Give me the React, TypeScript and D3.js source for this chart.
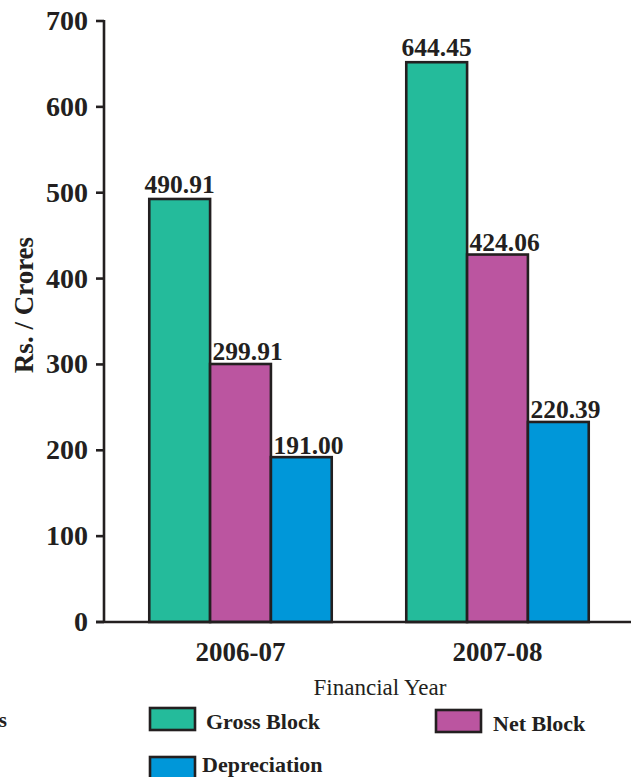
import React from "react";
import * as d3 from "d3";

const categories = ["2006-07", "2007-08"];
const seriesNames = ["Gross Block", "Net Block", "Depreciation"];
// bar heights as drawn in the picture
const grossBlock = [492.7, 652];
const netBlock = [300.5, 428];
const depreciation = [192, 233];
// printed value labels
const grossLabels = ["490.91", "644.45"];
const netLabels = ["299.91", "424.06"];
const depLabels = ["191.00", "220.39"];
const yTicks = [0, 100, 200, 300, 400, 500, 600, 700];

const colors = ["#24BB9B", "#BB55A0", "#0097D9"];
const FONT = "'Liberation Serif', 'Times New Roman', serif";
const INK = "#231f20";

export default function App() {
  const W = 631, H = 777;
  const y = d3.scaleLinear().domain([0, 700]).range([622, 21]);
  const x0 = d3.scaleBand<string>().domain(categories).range([112, 626]).paddingInner(0.29).paddingOuter(0.145);
  const x1 = d3.scaleBand<string>().domain(seriesNames).range([0, x0.bandwidth()]);
  const values = [grossBlock, netBlock, depreciation];
  const labels = [grossLabels, netLabels, depLabels];
  const axisX = 104;

  return (
    <svg width={W} height={H} style={{ position: "absolute", left: 0, top: 0, background: "#fff" }} fontFamily={FONT}>
      {categories.map((c, ci) =>
        seriesNames.map((s, si) => {
          const bx = (x0(c) as number) + (x1(s) as number);
          const top = y(values[si][ci]);
          return (
            <rect key={c + s} x={bx} y={top} width={x1.bandwidth()} height={y(0) - top} fill={colors[si]} stroke={INK} strokeWidth={2.6} />
          );
        })
      )}
      {categories.map((c, ci) =>
        seriesNames.map((s, si) => {
          const bx = (x0(c) as number) + (x1(s) as number);
          const top = y(values[si][ci]);
          const centered = si === 0;
          return (
            <text key={"l" + c + s} x={centered ? bx + x1.bandwidth() / 2 : bx + 2.5} y={top - (centered ? 6 : 3.5)}
              textAnchor={centered ? "middle" : "start"} fontSize={25.5} fontWeight="bold" fill={INK}>
              {labels[si][ci]}
            </text>
          );
        })
      )}
      <line x1={axisX} x2={axisX} y1={y(700) - 1} y2={y(0)} stroke={INK} strokeWidth={2.6} />
      {yTicks.map((t) => (
        <g key={t}>
          <line x1={axisX - 8} x2={axisX} y1={y(t)} y2={y(t)} stroke={INK} strokeWidth={2.6} />
          <text x={88} y={y(t) + 9} textAnchor="end" fontSize={28} fontWeight="bold" fill={INK}>{t}</text>
        </g>
      ))}
      <line x1={96} x2={W} y1={y(0)} y2={y(0)} stroke={INK} strokeWidth={2.6} />
      {categories.map((c) => (
        <text key={c} x={(x0(c) as number) + x0.bandwidth() / 2} y={661} textAnchor="middle" fontSize={27} fontWeight="bold" fill={INK}>{c}</text>
      ))}
      <text transform="translate(33,305) rotate(-90)" textAnchor="middle" fontSize={27} fontWeight="bold" fill={INK}>Rs. / Crores</text>
      <text x={380} y={695} textAnchor="middle" fontSize={23} fill={INK}>Financial Year</text>
      {[
        { i: 0, x: 150, y: 708, tx: 206, ty: 729 },
        { i: 1, x: 436, y: 710, tx: 493, ty: 731 },
        { i: 2, x: 150, y: 757, tx: 202, ty: 772 },
      ].map((l) => (
        <g key={l.i}>
          <rect x={l.x} y={l.y} width={45} height={22} fill={colors[l.i]} stroke={INK} strokeWidth={2.6} />
          <text x={l.tx} y={l.ty} fontSize={22} fontWeight="bold" fill={INK}>{seriesNames[l.i]}</text>
        </g>
      ))}
      <text x={7} y={727} textAnchor="end" fontSize={21} fontWeight="bold" fill={INK}>s</text>
    </svg>
  );
}
